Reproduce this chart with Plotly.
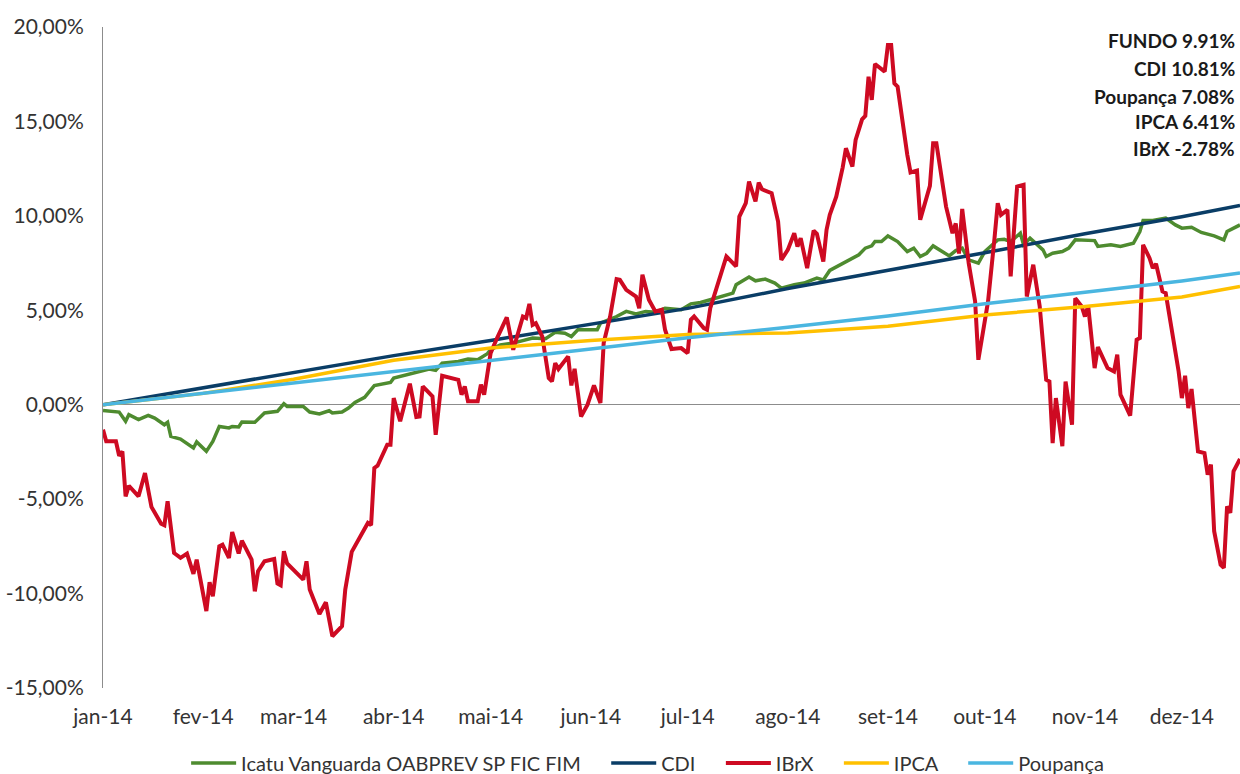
import pandas as pd
import plotly.graph_objects as go

BASE = pd.Timestamp("2014-01-01")

# Day-of-year offsets (days since 2014-01-01) and cumulative returns (%)
ibrx_days = [0, 1, 4, 5, 6, 7, 8, 11, 13, 15, 18, 19, 20, 22, 24, 26, 28, 29, 32, 33, 34, 36, 37, 39, 40,
             42, 43, 46, 47, 48, 50, 53, 54, 55, 56, 57, 62, 63, 64, 67, 69, 71, 74, 75, 77, 82, 83, 84, 85,
             88, 89, 90, 92, 95, 97, 98, 99, 102, 103, 105, 110, 111, 112, 113, 116, 117, 118, 120, 122,
             125, 127, 130, 131, 132, 133, 134, 136, 138, 139, 140, 141, 144, 145, 146, 148, 150, 152, 154,
             155, 157, 159, 160, 162, 165, 166, 167, 169, 171, 173, 174, 176, 178, 179, 181, 182, 183, 186,
             187, 188, 193, 196, 197, 199, 200, 202, 203, 204, 207, 209, 210, 212, 214, 215, 216, 218, 220,
             221, 223, 224, 225, 227, 229, 230, 232, 233, 235, 236, 237, 238, 239, 242, 243, 244, 245, 246,
             249, 250, 252, 253, 256, 257, 258, 260, 261, 263, 264, 265, 266, 268, 270, 271, 274, 276, 277,
             278, 280, 281, 283, 285, 286, 288, 290, 292, 293, 294, 295, 297, 298, 300, 301, 303, 304, 305,
             307, 308, 311, 313, 314, 315, 318, 320, 321, 322, 324, 325, 326, 328, 329, 333, 334, 335, 336,
             337, 339, 341, 342, 343, 344, 346, 347, 348, 349, 350, 352]
ibrx_vals = [-1.32, -1.94, -1.94, -2.70, -2.47, -4.85, -4.29, -4.85, -3.62, -5.41, -6.30, -6.38, -5.11,
             -7.85, -8.11, -7.88, -8.96, -8.20, -10.93, -9.40, -10.14, -7.50, -7.41, -8.11, -6.74, -7.88,
             -7.20, -8.20, -9.88, -8.82, -8.29, -8.17, -9.47, -9.56, -7.76, -8.41, -9.26, -8.29, -9.79,
             -11.08, -10.46, -12.26, -11.73, -9.79, -7.79, -6.26, -6.38, -3.35, -3.23, -2.12, -2.12, 0.35,
             -0.88, 1.11, -0.65, -0.62, 0.97, 0.44, -1.59, 1.53, 1.32, 0.53, 0.97, 0.18, 0.18, 1.06, 0.53,
             2.73, 3.53, 4.62, 2.91, 4.67, 4.59, 5.34, 4.23, 4.32, 3.61, 1.41, 1.23, 2.20, 1.89, 2.56, 1.02,
             1.90, -0.62, 0.00, 1.02, 0.09, 3.26, 4.67, 6.65, 6.61, 6.08, 5.73, 5.11, 6.88, 5.56, 4.94, 5.03,
             3.97, 2.95, 2.95, 3.00, 2.73, 4.50, 4.67, 4.06, 3.97, 5.11, 7.85, 7.32, 9.96, 10.67, 11.82,
             10.76, 11.76, 11.41, 11.20, 9.70, 7.67, 8.20, 9.08, 8.38, 8.82, 7.23, 9.22, 9.05, 7.58, 9.26,
             10.05, 11.02, 12.57, 13.58, 12.61, 14.02, 15.11, 15.29, 17.37, 16.14, 18.04, 17.64, 19.05,
             19.05, 17.02, 16.84, 13.23, 12.30, 12.40, 9.79, 11.59, 13.85, 13.85, 11.38, 10.49, 9.08, 9.60,
             8.00, 10.37, 7.50, 5.47, 2.38, 5.47, 8.82, 10.67, 10.05, 10.32, 6.79, 11.55, 11.64, 5.73, 7.41,
             5.20, 1.32, 1.23, -2.03, 0.35, -2.20, 1.23, -1.06, 5.64, 5.20, 4.67, 5.24, 1.94, 3.05, 1.94,
             1.76, 2.65, 0.53, -0.58, 3.44, 3.53, 8.47, 7.76, 7.23, 7.46, 6.00, 5.91, 1.76, 0.35, 1.53,
             -0.18, 0.83, -2.47, -2.56, -3.70, -3.17, -6.70, -8.47, -8.64, -5.38, -5.73, -3.53, -2.87]

fundo_days = [0, 5, 7, 8, 11, 14, 16, 19, 20, 21, 24, 28, 29, 32, 34, 36, 39, 40, 42, 43, 47, 50, 54, 56,
              57, 62, 64, 67, 70, 71, 74, 76, 78, 81, 84, 86, 89, 90, 92, 95, 98, 101, 103, 105, 110, 113,
              116, 119, 120, 123, 127, 133, 137, 140, 143, 145, 147, 153, 154, 159, 162, 165, 168, 171, 174,
              179, 182, 185, 188, 191, 195, 196, 200, 202, 205, 208, 210, 214, 217, 221, 223, 225, 229, 234,
              236, 238, 239, 241, 243, 246, 249, 251, 253, 255, 257, 260, 262, 264, 266, 268, 271, 273, 277,
              279, 281, 284, 285, 287, 291, 292, 294, 297, 299, 301, 307, 308, 312, 315, 319, 321, 322, 325,
              329, 332, 334, 337, 340, 344, 347, 348, 352]
fundo_vals = [-0.30, -0.39, -0.88, -0.53, -0.79, -0.56, -0.71, -1.06, -0.93, -1.68, -1.82, -2.29, -1.97,
              -2.47, -1.94, -1.15, -1.23, -1.15, -1.18, -0.92, -0.93, -0.44, -0.35, 0.05, -0.09, -0.09,
              -0.39, -0.49, -0.32, -0.44, -0.39, -0.18, 0.12, 0.39, 1.01, 1.06, 1.18, 1.41, 1.50, 1.64, 1.76,
              1.89, 1.82, 2.20, 2.29, 2.42, 2.38, 2.70, 2.91, 3.17, 3.26, 3.53, 3.49, 3.83, 3.79, 3.61, 3.97,
              3.97, 4.32, 4.67, 4.94, 4.80, 4.94, 4.89, 5.11, 5.03, 5.34, 5.41, 5.56, 5.70, 5.91, 6.35, 6.76,
              6.56, 6.65, 6.44, 6.17, 6.35, 6.44, 6.70, 6.61, 7.11, 7.50, 7.94, 8.29, 8.41, 8.64, 8.64, 8.94,
              8.64, 8.11, 8.29, 7.85, 8.02, 8.41, 8.11, 7.88, 8.16, 8.29, 7.67, 7.50, 8.11, 8.73, 8.76, 8.64,
              9.08, 8.47, 8.82, 8.20, 7.85, 8.02, 8.11, 8.29, 8.73, 8.69, 8.38, 8.47, 8.38, 8.55, 9.17, 9.75,
              9.75, 9.88, 9.52, 9.35, 9.40, 9.12, 8.94, 8.73, 9.17, 9.52]

# Benchmarks: values at month starts and last date
bench_days = [0, 31, 59, 90, 120, 151, 181, 212, 243, 273, 304, 334, 352]
cdi_vals = [0.00, 0.88, 1.70, 2.60, 3.40, 4.25, 5.10, 6.15, 7.10, 8.05, 9.05, 9.95, 10.55]
ipca_vals = [0.00, 0.60, 1.35, 2.35, 3.00, 3.40, 3.72, 3.80, 4.15, 4.75, 5.20, 5.70, 6.26]
poup_vals = [0.00, 0.60, 1.15, 1.75, 2.35, 2.95, 3.55, 4.10, 4.70, 5.35, 5.95, 6.55, 6.97]

month_labels = ["jan-14", "fev-14", "mar-14", "abr-14", "mai-14", "jun-14", "jul-14", "ago-14",
                "set-14", "out-14", "nov-14", "dez-14"]
y_ticks = [-15, -10, -5, 0, 5, 10, 15, 20]
y_labels = ["-15,00%", "-10,00%", "-5,00%", "0,00%", "5,00%", "10,00%", "15,00%", "20,00%"]
summary = ["FUNDO 9.91%", "CDI 10.81%", "Poupança 7.08%", "IPCA 6.41%", "IBrX -2.78%"]


def to_dates(days):
    return [BASE + pd.Timedelta(days=d) for d in days]


FONT = "Lato, 'Open Sans', sans-serif"
PAD = "\u00a0" * 4
series = [
    ("Icatu Vanguarda OABPREV SP FIC FIM", fundo_days, fundo_vals, "#4E8B2F", 3.5, PAD),
    ("CDI", bench_days, cdi_vals, "#0A3D66", 3.5, PAD),
    ("IBrX", ibrx_days, ibrx_vals, "#CE0A22", 4, PAD),
    ("IPCA", bench_days, ipca_vals, "#FFC000", 3.5, PAD),
    ("Poupança", bench_days, poup_vals, "#4AB6E0", 3.5, ""),
]

fig = go.Figure()
for name, d, v, c, w, pad in series:
    fig.add_trace(go.Scatter(x=to_dates(d), y=v, mode="lines", name=name + pad,
                             line=dict(color=c, width=w)))

month_starts = [pd.Timestamp(2014, m, 1) for m in range(1, 13)]
fig.update_layout(
    width=1240, height=774,
    margin=dict(l=103, r=0, t=27, b=86, autoexpand=False),
    paper_bgcolor="white", plot_bgcolor="white",
    font=dict(family=FONT, size=21, color="#333333"),
    showlegend=True,
    legend=dict(orientation="h", x=0.479, xanchor="center", y=(688 - 763) / 661, yanchor="middle",
                font=dict(size=20, color="#333333"), itemwidth=45, tracegroupgap=0),
    xaxis=dict(type="date", range=[BASE, BASE + pd.Timedelta(days=352)],
               tickvals=month_starts, ticktext=month_labels, showgrid=False,
               showline=False, zeroline=False, ticks="", ticklabelstandoff=14,
               tickfont=dict(size=21), automargin=False),
    yaxis=dict(range=[-15, 20], tickvals=y_ticks, ticktext=y_labels, showgrid=False,
               zeroline=True, zerolinecolor="#8c8c8c", zerolinewidth=1,
               showline=True, linecolor="#8c8c8c", linewidth=1, ticks="",
               ticklabelstandoff=14, tickfont=dict(size=21), automargin=False),
)

ys_px = [41, 69, 96, 122, 148]
for txt, yp in zip(summary, ys_px):
    fig.add_annotation(x=1.0, xref="paper", xanchor="right", xshift=-3,
                       y=(688 - yp) / 661, yref="paper", yanchor="middle",
                       text=f"<b>{txt}</b>", showarrow=False,
                       font=dict(size=19, color="#1a1a1a", family=FONT))

fig.write_html("out.html", config={"displayModeBar": False},
               post_script="document.body.style.margin='0';")
